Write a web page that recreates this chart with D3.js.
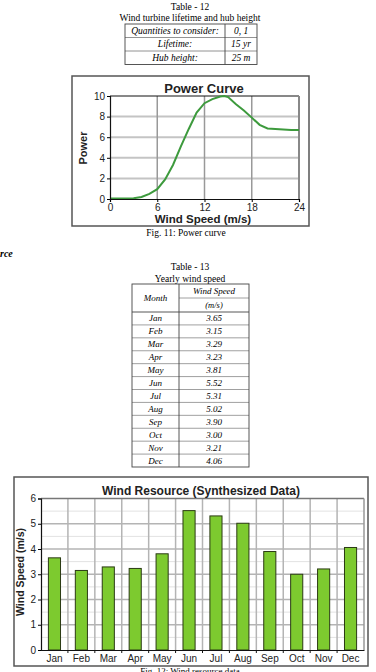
<!DOCTYPE html>
<html>
<head>
<meta charset="utf-8">
<script src="https://cdn.jsdelivr.net/npm/d3@7"></script>
<style>
  body { margin: 0; background: #fff; }
  text { font-family: "Liberation Sans", Arial, sans-serif; }
  .serif { font-family: "Liberation Serif", "Times New Roman", serif; }
</style>
</head>
<body>
<script>
const width = 376, height = 672

// Table 12
const lifeLabels = ["Quantities to consider:", "Lifetime:", "Hub height:"]
const lifeValues = ["0, 1", "15 yr", "25 m"]

// power curve (wind speed m/s -> power)
const curveSpeed = [0, 1, 2, 3, 4, 5, 6, 7, 8, 9, 10, 11, 12, 13, 14, 14.5, 15, 16, 17, 18, 19, 20, 21, 22, 23, 24]
const curvePower = [0.05, 0.05, 0.05, 0.07, 0.2, 0.5, 0.95, 1.9, 3.3, 5.1, 6.8, 8.4, 9.3, 9.7, 9.95, 10.0, 9.9, 9.2, 8.6, 7.9, 7.2, 6.85, 6.8, 6.75, 6.7, 6.7]
const curveXTicks = [0, 6, 12, 18, 24]
const curveYTicks = [0, 2, 4, 6, 8, 10]

// Table 13 / wind resource
const months = ["Jan", "Feb", "Mar", "Apr", "May", "Jun", "Jul", "Aug", "Sep", "Oct", "Nov", "Dec"]
const windSpeed = [3.65, 3.15, 3.29, 3.23, 3.81, 5.52, 5.31, 5.02, 3.90, 3.00, 3.21, 4.06]
const windYTicks = [0, 1, 2, 3, 4, 5, 6]

let svg = d3.select("body")
    .append("svg")
    .attr("width", width)
    .attr("height", height)

svg.append("rect").attr("width", width).attr("height", height).attr("fill", "#fff")

// ---------- Table 12 ----------
svg.append("text").attr("class", "serif")
    .attr("x", 190).attr("y", 10).attr("text-anchor", "middle")
    .style("font-size", "9.5px").text("Table - 12")
svg.append("text").attr("class", "serif")
    .attr("x", 190).attr("y", 21).attr("text-anchor", "middle")
    .style("font-size", "9.5px").text("Wind turbine lifetime and hub height")

const t12 = { x0: 125, x1: 225, x2: 257, y0: 24, rowH: 13.5 }
let g12 = svg.append("g")
lifeLabels.forEach((lab, i) => {
    let y = t12.y0 + i * t12.rowH
    g12.append("text").attr("class", "serif")
        .attr("x", (t12.x0 + t12.x1) / 2).attr("y", y + t12.rowH / 2 + 3)
        .attr("text-anchor", "middle").style("font-size", "9.5px").style("font-style", "italic")
        .text(lab)
    g12.append("text").attr("class", "serif")
        .attr("x", (t12.x1 + t12.x2) / 2).attr("y", y + t12.rowH / 2 + 3)
        .attr("text-anchor", "middle").style("font-size", "9.5px").style("font-style", "italic")
        .text(lifeValues[i])
    if (i > 0) {
        g12.append("line").attr("x1", t12.x0).attr("x2", t12.x2).attr("y1", y).attr("y2", y)
            .attr("stroke", "#777").attr("stroke-width", 0.8)
    }
})
g12.append("rect").attr("x", t12.x0).attr("y", t12.y0)
    .attr("width", t12.x2 - t12.x0).attr("height", t12.rowH * 3)
    .attr("fill", "none").attr("stroke", "#444").attr("stroke-width", 0.9)
g12.append("line").attr("x1", t12.x1).attr("x2", t12.x1)
    .attr("y1", t12.y0).attr("y2", t12.y0 + t12.rowH * 3).attr("stroke", "#444").attr("stroke-width", 0.9)

// ---------- Power curve ----------
svg.append("rect").attr("x", 72).attr("y", 76).attr("width", 237).attr("height", 150)
    .attr("fill", "#fff").attr("stroke", "#555").attr("stroke-width", 1.5)

const pc = { left: 110, right: 299, top: 96, bottom: 199 }
const px = d3.scaleLinear().domain([0, 24]).range([pc.left, pc.right])
const py = d3.scaleLinear().domain([0, 10]).range([pc.bottom, pc.top])

let gp = svg.append("g")
gp.selectAll(".hgrid").data(curveYTicks.slice(1, -1)).join("line")
    .attr("x1", pc.left).attr("x2", pc.right)
    .attr("y1", d => py(d)).attr("y2", d => py(d))
    .attr("stroke", "#c4c4c4").attr("stroke-width", 2)
gp.selectAll(".vgrid").data(curveXTicks.slice(1, -1)).join("line")
    .attr("x1", d => px(d)).attr("x2", d => px(d))
    .attr("y1", pc.top).attr("y2", pc.bottom)
    .attr("stroke", "#999").attr("stroke-width", 1.5)
gp.append("line").attr("x1", pc.left).attr("x2", pc.right).attr("y1", pc.top).attr("y2", pc.top)
    .attr("stroke", "#111").attr("stroke-width", 1)
gp.append("line").attr("x1", pc.right).attr("x2", pc.right).attr("y1", pc.top).attr("y2", pc.bottom)
    .attr("stroke", "#888").attr("stroke-width", 2)

gp.append("path")
    .datum(curveSpeed.map((s, i) => [s, curvePower[i]]))
    .attr("d", d3.line().x(d => px(d[0])).y(d => py(d[1])))
    .attr("fill", "none").attr("stroke", "#3d9a3d").attr("stroke-width", 2)

gp.append("g").attr("transform", `translate(0,${pc.bottom})`)
    .call(d3.axisBottom(px).tickValues(curveXTicks).tickSize(3).tickPadding(2))
    .call(a => a.selectAll("text").style("font-size", "10px").attr("fill", "#222"))
gp.append("g").attr("transform", `translate(${pc.left},0)`)
    .call(d3.axisLeft(py).tickValues(curveYTicks).tickSize(3).tickPadding(2))
    .call(a => a.selectAll("text").style("font-size", "10px").attr("fill", "#222"))
gp.selectAll(".domain").attr("stroke", "#111").attr("stroke-width", 1.2)

svg.append("text").attr("x", 204).attr("y", 93).attr("text-anchor", "middle")
    .style("font-size", "13px").style("font-weight", "bold").attr("fill", "#222").text("Power Curve")
svg.append("text").attr("x", 203).attr("y", 223).attr("text-anchor", "middle")
    .style("font-size", "11.5px").style("font-weight", "bold").attr("fill", "#222").text("Wind Speed (m/s)")
svg.append("text").attr("transform", "translate(87,148) rotate(-90)").attr("text-anchor", "middle")
    .style("font-size", "11px").style("font-weight", "bold").attr("fill", "#222").text("Power")

svg.append("text").attr("class", "serif").attr("x", 186).attr("y", 236).attr("text-anchor", "middle")
    .style("font-size", "9.5px").text("Fig. 11: Power curve")

svg.append("text").attr("class", "serif").attr("x", 0).attr("y", 257)
    .style("font-size", "10px").style("font-style", "italic").style("font-weight", "bold").text("rce")

// ---------- Table 13 ----------
svg.append("text").attr("class", "serif")
    .attr("x", 190).attr("y", 270).attr("text-anchor", "middle")
    .style("font-size", "9.5px").text("Table - 13")
svg.append("text").attr("class", "serif")
    .attr("x", 190).attr("y", 282).attr("text-anchor", "middle")
    .style("font-size", "9.5px").text("Yearly wind speed")

const t13 = { x0: 132, x1: 179, x2: 249, top: 284, headMid: 298, headBot: 312, bottom: 467 }
const rowY = d3.scaleBand().domain(months).range([t13.headBot, t13.bottom])
let g13 = svg.append("g")
g13.selectAll(".rowline").data(months.slice(1)).join("line")
    .attr("x1", t13.x0).attr("x2", t13.x2)
    .attr("y1", d => rowY(d)).attr("y2", d => rowY(d))
    .attr("stroke", "#888").attr("stroke-width", 0.8)
g13.selectAll(".mon").data(months).join("text").attr("class", "serif")
    .attr("x", (t13.x0 + t13.x1) / 2).attr("y", d => rowY(d) + rowY.bandwidth() / 2 + 3)
    .attr("text-anchor", "middle").style("font-size", "9px").style("font-style", "italic")
    .text(d => d)
g13.selectAll(".val").data(windSpeed).join("text").attr("class", "serif")
    .attr("x", (t13.x1 + t13.x2) / 2).attr("y", (d, i) => rowY(months[i]) + rowY.bandwidth() / 2 + 3)
    .attr("text-anchor", "middle").style("font-size", "9px").style("font-style", "italic")
    .text(d => d.toFixed(2))
g13.append("text").attr("class", "serif").attr("x", (t13.x0 + t13.x1) / 2).attr("y", 301)
    .attr("text-anchor", "middle").style("font-size", "9px").style("font-style", "italic").text("Month")
g13.append("text").attr("class", "serif").attr("x", (t13.x1 + t13.x2) / 2).attr("y", 294)
    .attr("text-anchor", "middle").style("font-size", "9px").style("font-style", "italic").text("Wind Speed")
g13.append("text").attr("class", "serif").attr("x", (t13.x1 + t13.x2) / 2).attr("y", 308)
    .attr("text-anchor", "middle").style("font-size", "8.5px").style("font-style", "italic").text("(m/s)")
g13.append("line").attr("x1", t13.x1).attr("x2", t13.x2).attr("y1", t13.headMid).attr("y2", t13.headMid)
    .attr("stroke", "#888").attr("stroke-width", 0.8)
g13.append("line").attr("x1", t13.x0).attr("x2", t13.x2).attr("y1", t13.headBot).attr("y2", t13.headBot)
    .attr("stroke", "#444").attr("stroke-width", 0.9)
g13.append("rect").attr("x", t13.x0).attr("y", t13.top)
    .attr("width", t13.x2 - t13.x0).attr("height", t13.bottom - t13.top)
    .attr("fill", "none").attr("stroke", "#444").attr("stroke-width", 0.9)
g13.append("line").attr("x1", t13.x1).attr("x2", t13.x1).attr("y1", t13.top).attr("y2", t13.bottom)
    .attr("stroke", "#444").attr("stroke-width", 0.9)

// ---------- Wind resource bar chart ----------
svg.append("rect").attr("x", 14).attr("y", 477).attr("width", 354).attr("height", 189)
    .attr("fill", "#fff").attr("stroke", "#555").attr("stroke-width", 1.5)

const bc = { left: 41, right: 364, top: 498.5, bottom: 650 }
const bx = d3.scaleBand().domain(months).range([bc.left, bc.right]).paddingInner(0.55).paddingOuter(0.275)
const bandStep = (bc.right - bc.left) / months.length
const by = d3.scaleLinear().domain([0, 6]).range([bc.bottom, bc.top])

let gb = svg.append("g")
// minor horizontal grid every 0.5
gb.selectAll(".minor").data(d3.range(0.5, 6, 1)).join("line")
    .attr("x1", bc.left).attr("x2", bc.right)
    .attr("y1", d => by(d)).attr("y2", d => by(d))
    .attr("stroke", "#e2e2e2").attr("stroke-width", 1)
gb.selectAll(".major").data(windYTicks.slice(1, -1)).join("line")
    .attr("x1", bc.left).attr("x2", bc.right)
    .attr("y1", d => by(d)).attr("y2", d => by(d))
    .attr("stroke", "#b4b4b4").attr("stroke-width", 1.5)
gb.selectAll(".vgrid").data(d3.range(1, months.length)).join("line")
    .attr("x1", d => bc.left + d * bandStep).attr("x2", d => bc.left + d * bandStep)
    .attr("y1", bc.top).attr("y2", bc.bottom)
    .attr("stroke", "#b4b4b4").attr("stroke-width", 1.5)
gb.append("line").attr("x1", bc.left).attr("x2", bc.right).attr("y1", bc.top).attr("y2", bc.top)
    .attr("stroke", "#777").attr("stroke-width", 1.5)
gb.append("line").attr("x1", bc.right).attr("x2", bc.right).attr("y1", bc.top).attr("y2", bc.bottom)
    .attr("stroke", "#999").attr("stroke-width", 1.5)

gb.selectAll(".bar").data(windSpeed).join("rect")
    .attr("x", (d, i) => bx(months[i]))
    .attr("y", d => by(d))
    .attr("width", bx.bandwidth())
    .attr("height", d => by(0) - by(d))
    .attr("fill", "#7dca2f").attr("stroke", "#2b3a14").attr("stroke-width", 1)

let xAxis = gb.append("g").attr("transform", `translate(0,${bc.bottom})`)
    .call(d3.axisBottom(bx).tickSize(0).tickPadding(5))
xAxis.selectAll("text").style("font-size", "10px").attr("fill", "#222")
xAxis.selectAll(".btick").data(d3.range(1, months.length)).join("line")
    .attr("x1", d => bc.left + d * bandStep).attr("x2", d => bc.left + d * bandStep)
    .attr("y1", 0).attr("y2", 3).attr("stroke", "#111")
gb.append("g").attr("transform", `translate(${bc.left},0)`)
    .call(d3.axisLeft(by).tickValues(windYTicks).tickFormat(d3.format("d")).tickSize(3).tickPadding(2))
    .call(a => a.selectAll("text").style("font-size", "10px").attr("fill", "#222"))
gb.selectAll(".domain").attr("stroke", "#111").attr("stroke-width", 1.2)

svg.append("text").attr("x", 201).attr("y", 495).attr("text-anchor", "middle")
    .style("font-size", "12px").style("font-weight", "bold").attr("fill", "#222")
    .text("Wind Resource (Synthesized Data)")
svg.append("text").attr("transform", "translate(24,572) rotate(-90)").attr("text-anchor", "middle")
    .style("font-size", "10.5px").style("font-weight", "bold").attr("fill", "#222").text("Wind Speed (m/s)")

svg.append("text").attr("class", "serif").attr("x", 190).attr("y", 674).attr("text-anchor", "middle")
    .style("font-size", "9px").text("Fig. 12: Wind resource data")
</script>
</body>
</html>
